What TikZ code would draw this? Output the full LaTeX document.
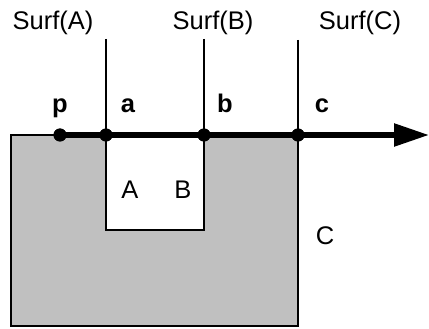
\documentclass[tikz,border=0pt]{standalone}
\usepackage{fontspec}
\setmainfont{Liberation Sans}
\usetikzlibrary{arrows.meta}
\begin{document}
\begin{tikzpicture}[x=1pt,y=-1pt,
    lbl/.style={font=\fontsize{25.5}{30}\selectfont, inner sep=0pt, anchor=base},
    blbl/.style={lbl, font=\fontsize{25.5}{30}\selectfont\bfseries},
    pt/.style={circle, fill=black, inner sep=0pt, minimum size=13pt},
    surf/.style={line width=2pt},
    ray/.style={line width=5.5pt, -{Triangle[length=35pt,width=22pt]}}]
  \useasboundingbox (0,0) rectangle (429,329);
  % solid C with the pocket holding A and B
  \filldraw[fill={rgb,255:red,192;green,192;blue,192}, line width=2pt]
    (11,135) -- (106,135) -- (106,230) -- (204,230) -- (204,135)
    -- (298,135) -- (298,326) -- (11,326) -- cycle;
  % surfaces
  \coordinate (ta) at (106,39);
  \coordinate (tb) at (204,39);
  \coordinate (tc) at (298,40);
  \coordinate (end) at (429,135);
  \node[pt] (p) at (60,135) {};
  \node[pt] (a) at (106,135) {};
  \node[pt] (b) at (204,135) {};
  \node[pt] (c) at (298,135) {};
  \draw[surf] (ta) -- (a.center) -- (106,230);
  \draw[surf] (tb) -- (b.center) -- (204,230);
  \draw[surf] (tc) -- (c.center);
  % ray
  \draw[ray] (p.center) -- (end);
  \node[pt] at (p) {};
  \node[pt] at (a) {};
  \node[pt] at (b) {};
  \node[pt] at (c) {};
  % labels
  \node[lbl] (sa) at (53,30) {Surf(A)};
  \node[lbl] (sb) at (213,30) {Surf(B)};
  \node[lbl] (sc) at (360,30) {Surf(C)};
  \node[blbl] (lp) at (60,113) {p};
  \node[blbl] (la) at (128,113) {a};
  \node[blbl] (lb) at (225,113) {b};
  \node[blbl] (lc) at (322,113) {c};
  \node[lbl] (lA) at (130,198) {A};
  \node[lbl] (lB) at (183,198) {B};
  \node[lbl] (lC) at (325,244) {C};
\end{tikzpicture}
\end{document}
